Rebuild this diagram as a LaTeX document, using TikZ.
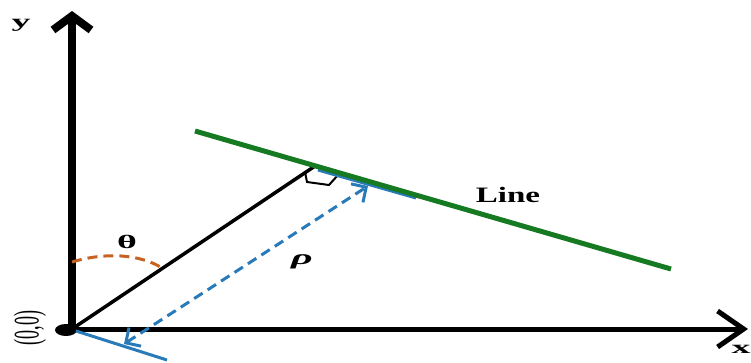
\documentclass[tikz,border=0pt]{standalone}
\usepackage{fontspec}
\setmainfont{Liberation Serif}
\usetikzlibrary{arrows.meta,positioning}

\definecolor{linegreen}{RGB}{22,122,34}
\definecolor{rhoblue}{RGB}{40,122,184}
\definecolor{thetaorange}{RGB}{200,98,34}

\tikzset{
  axislabel/.style={font=\fontsize{18}{18}\selectfont\bfseries, xscale=2.1},
  greeklabel/.style={font=\fontsize{19}{19}\selectfont\bfseries, xscale=2},
  dashline/.style={dash pattern=on 10pt off 6pt},
  smallbarb/.style={{Straight Barb[length=11pt,width=22pt]}-{Straight Barb[length=11pt,width=22pt]}}
}

\begin{document}
\begin{tikzpicture}[x=1pt,y=-1pt,line width=1pt]
  \useasboundingbox (0,0) rectangle (751,362);

  % Points of the picture
  \coordinate (O) at (72,329);
  \coordinate (ytip) at (72,11);
  \coordinate (xtip) at (748,329);
  \coordinate (L1) at (195,131);
  \coordinate (L2) at (671,269);
  \coordinate (P) at (315,166);
  \coordinate (B1) at (76,331);
  \coordinate (B2) at (167,360);
  \coordinate (B3) at (318,170);
  \coordinate (B4) at (416,198);
  \coordinate (A1) at (124,344);
  \coordinate (A2) at (368,186);

  % The two axes
  \draw[line width=5pt, -{Straight Barb[length=26pt,width=36pt]}] (O) -- (xtip);
  \draw[line width=8pt, -{Straight Barb[length=14pt,width=38pt]}] (O) -- (ytip);
  \fill (66,330) ellipse [x radius=11pt, y radius=6pt];

  % Normal from the origin to the line
  \draw[line width=3.5pt] (O) -- (P);
  \draw[line width=2pt] (305,172) -- (307,182) -- (329,185) -- (338,175);

  % Parallels for rho
  \draw[rhoblue, line width=3pt] (B1) -- (B2);
  \draw[rhoblue, line width=3pt] (B3) -- (B4);
  \draw[rhoblue, line width=3pt, dashline, smallbarb] (A1) -- (A2);

  % The line itself
  \draw[linegreen, line width=5pt] (L1) -- (L2);

  % Angle theta
  \draw[thetaorange, line width=3pt, dashline] (72,262) .. controls (105,252) and (140,254) .. (162,268);

  % Labels
  \node[axislabel] (ylabel) at (21,25) {y};
  \node[axislabel] (xlabel) at (741,349) {x};
  \node[greeklabel] (theta) at (127,242) {θ};
  \node[greeklabel, font=\fontsize{21}{21}\selectfont\bfseries\itshape] (rho) at (302,262) {ρ};
  \node[font=\fontsize{22}{22}\selectfont\bfseries, xscale=1.5] (linelabel) at (508,195) {Line};
  \node[font=\fontsize{18}{18}\selectfont, xscale=2, rotate=90] (origin) at (30,328) {(0,0)};

\end{tikzpicture}
\end{document}
